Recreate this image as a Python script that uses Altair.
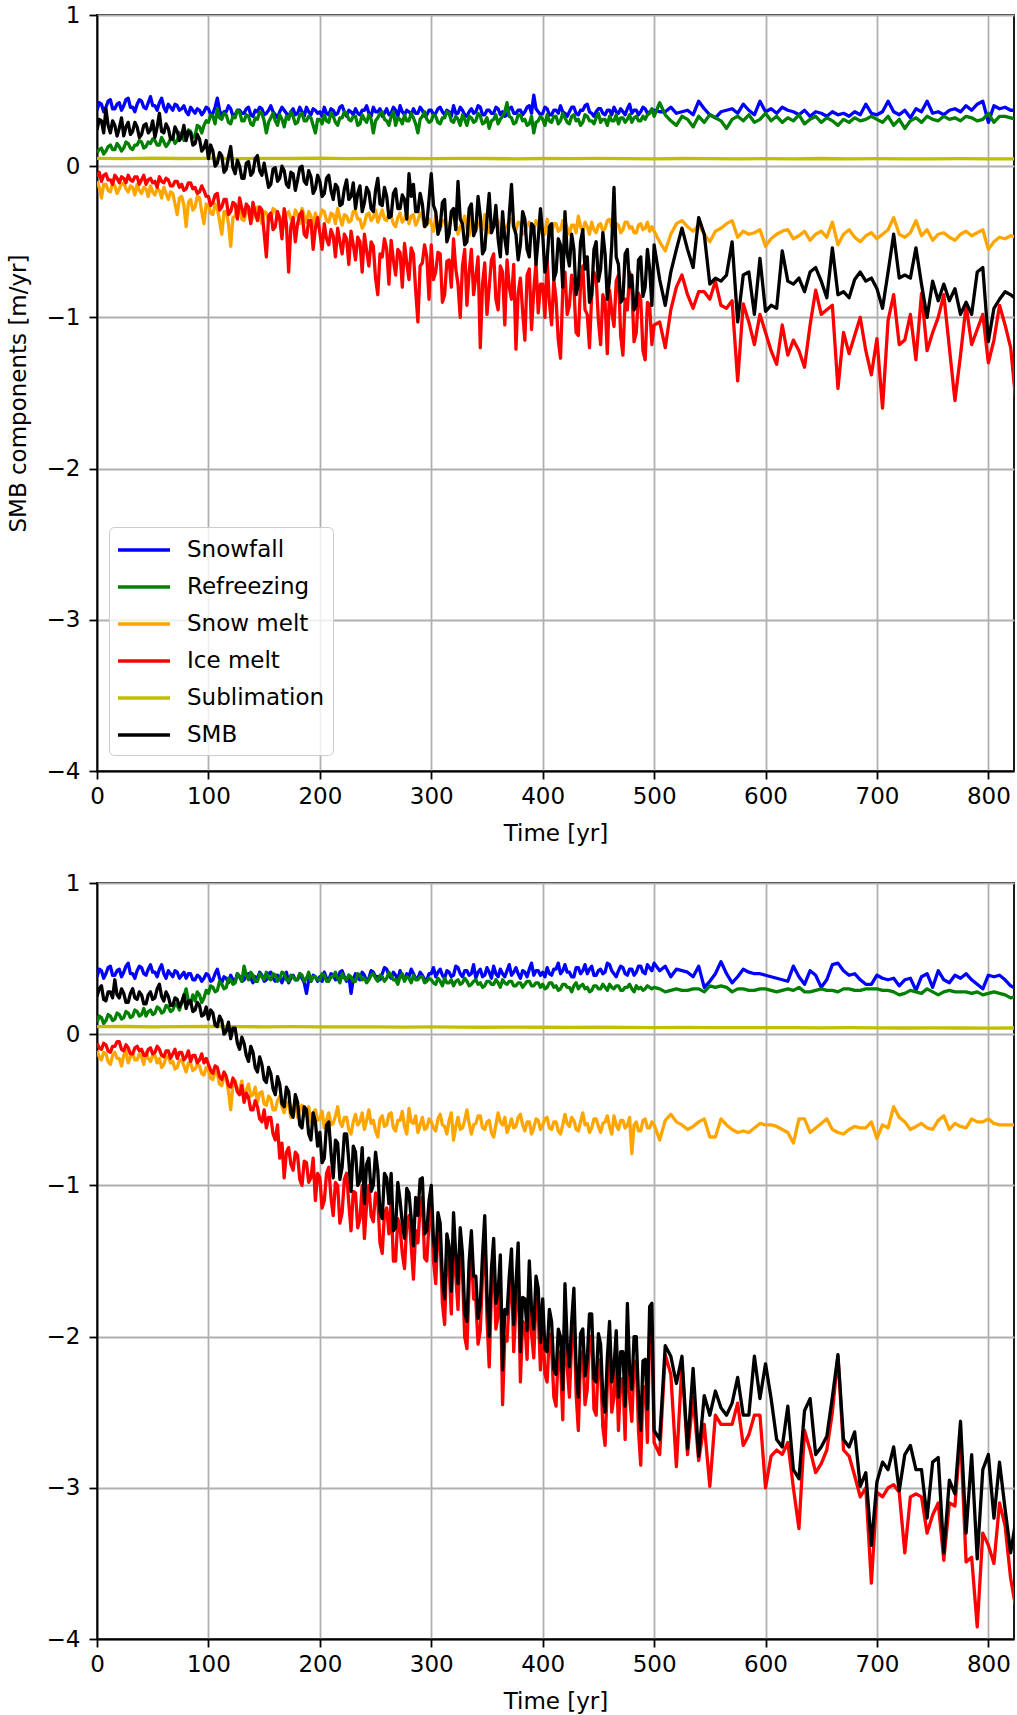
import altair as alt
import pandas as pd

# ---------------------------------------------------------------------------
# Surface mass balance components of two glacier runs (values in cm/yr).
# Output is kept every 2 years up to year 498, then every 5 years.
# ---------------------------------------------------------------------------
YEARS = list(range(0, 500, 2)) + list(range(500, 826, 5))
SUBL_YEARS = list(range(0, 826, 25))

SERIES = ["Snowfall", "Refreezing", "Snow melt", "Ice melt", "Sublimation", "SMB"]
COLORS = ["#0000ff", "#008000", "#ffa500", "#ff0000", "#bfbf00", "#000000"]

X_TICKS = [0, 100, 200, 300, 400, 500, 600, 700, 800]
Y_TICKS = [-4, -3, -2, -1, 0, 1]

# ----------------------------- run 1 (top) ---------------------------------
TOP_SNOWFALL = [
    37, 42, 41, 36, 39, 43, 44, 38, 38, 41, 42, 37, 40, 44, 45, 39, 39, 36, 41, 44, 43, 39, 38, 42, 46,
    40, 40, 37, 42, 45, 39, 36, 41, 39, 37, 41, 40, 37, 38, 40, 36, 34, 39, 37, 35, 38, 37, 34, 36, 39,
    38, 34, 35, 39, 45, 37, 33, 36, 36, 40, 38, 33, 34, 37, 37, 35, 35, 38, 39, 34, 33, 37, 36, 39, 38,
    34, 35, 37, 40, 36, 34, 32, 36, 39, 37, 35, 33, 36, 38, 34, 35, 39, 36, 33, 39, 36, 34, 38, 37, 35,
    36, 33, 39, 35, 34, 38, 37, 34, 35, 39, 40, 36, 33, 37, 36, 34, 38, 35, 34, 37, 37, 40, 35, 33, 39,
    36, 36, 38, 33, 35, 38, 34, 35, 39, 37, 33, 40, 36, 34, 37, 36, 34, 38, 35, 35, 39, 37, 33, 34, 37,
    37, 34, 35, 38, 39, 36, 34, 37, 36, 33, 40, 35, 35, 39, 37, 34, 33, 36, 38, 35, 36, 40, 39, 34, 34,
    37, 37, 35, 35, 39, 38, 34, 36, 33, 34, 38, 39, 35, 35, 37, 37, 34, 36, 39, 40, 35, 47, 38, 36, 34,
    35, 39, 38, 34, 34, 37, 37, 35, 40, 36, 35, 33, 36, 39, 39, 35, 34, 37, 37, 40, 41, 36, 35, 33, 36,
    38, 38, 35, 34, 37, 37, 34, 39, 36, 35, 38, 36, 34, 38, 41, 35, 37, 37, 34, 36, 39, 38, 35, 36, 37,
    37, 36, 36, 39, 35, 36, 37, 34, 43, 38, 34, 32, 36, 37, 38, 35, 41, 37, 34, 43,
    36, 38, 35, 39, 37, 36, 34, 37, 33, 36, 35, 33, 36, 34, 35, 33, 36, 34, 41, 35,
    34, 36, 43, 36, 34, 37, 32, 38, 36, 43, 35, 36, 34, 37, 38, 36, 40, 37, 41, 43,
    29, 40, 38, 39, 37, 37,
]
TOP_REFREEZING = [
    9, 11, 12, 8, 10, 13, 14, 11, 11, 15, 13, 10, 12, 16, 15, 12, 11, 14, 14, 17, 16, 12, 13, 16, 15,
    18, 17, 14, 14, 19, 16, 13, 15, 18, 19, 15, 17, 22, 21, 17, 18, 24, 23, 19, 20, 27, 26, 22, 27, 30,
    29, 34, 33, 28, 38, 32, 31, 35, 34, 29, 28, 33, 32, 37, 36, 30, 30, 34, 33, 28, 27, 32, 31, 36, 35,
    30, 22, 29, 32, 35, 30, 27, 34, 31, 26, 33, 31, 36, 33, 28, 29, 34, 35, 30, 30, 33, 32, 27, 22, 31,
    31, 28, 34, 30, 29, 35, 33, 29, 27, 32, 32, 36, 35, 31, 30, 33, 33, 27, 28, 34, 31, 29, 34, 31, 22,
    30, 32, 35, 36, 31, 30, 27, 33, 36, 27, 32, 31, 28, 34, 30, 30, 35, 32, 28, 22, 31, 33, 36, 31, 29,
    30, 34, 33, 29, 28, 32, 32, 36, 35, 30, 29, 33, 31, 27, 34, 31, 27, 33, 32, 29, 30, 35, 33, 28, 29,
    32, 25, 30, 31, 34, 28, 31, 33, 36, 42, 33, 32, 28, 29, 34, 34, 30, 31, 27, 28, 33, 22, 29, 30, 33,
    31, 27, 34, 30, 29, 33, 33, 28, 30, 35, 32, 29, 28, 33, 34, 30, 31, 27, 29, 34, 33, 30, 30, 28, 32,
    35, 29, 31, 31, 27, 33, 30, 30, 34, 28, 32, 32, 29, 31, 34, 29, 32, 33, 30, 30, 33, 31, 34, 35, 38,
    33, 42, 34, 30, 27, 33, 31, 26, 33, 29, 34, 32, 30, 25, 31, 33, 30, 34, 29, 31,
    35, 30, 33, 29, 32, 30, 34, 28, 31, 33, 29, 32, 30, 27, 31, 29, 32, 30, 31, 33,
    31, 29, 33, 27, 31, 25, 30, 32, 29, 33, 31, 30, 33, 31, 32, 30, 33, 32, 30, 31,
    35, 29, 33, 33, 32, 31,
]
TOP_SNOWMELT = [
    -10, -14, -21, -12, -12, -16, -17, -11, -13, -18, -15, -12, -11, -15, -17, -13, -14, -19, -12, -16, -18, -14, -15, -20, -13,
    -17, -19, -15, -16, -21, -14, -18, -22, -17, -18, -25, -32, -21, -20, -26, -40, -24, -22, -29, -27, -20, -21, -30, -38, -25,
    -26, -31, -32, -25, -28, -36, -45, -30, -30, -38, -53, -34, -33, -27, -28, -35, -36, -29, -30, -37, -34, -28, -27, -33, -38,
    -30, -31, -36, -35, -28, -29, -34, -33, -39, -40, -31, -30, -35, -36, -29, -32, -38, -28, -33, -37, -30, -33, -40, -31, -36,
    -34, -29, -30, -36, -37, -31, -32, -38, -28, -34, -39, -32, -33, -37, -36, -30, -30, -35, -35, -41, -38, -32, -31, -36, -34,
    -29, -37, -33, -29, -35, -36, -31, -33, -38, -40, -34, -31, -37, -35, -30, -38, -33, -32, -39, -36, -31, -34, -40, -39, -35,
    -38, -43, -33, -39, -42, -36, -36, -41, -40, -34, -30, -38, -45, -40, -37, -33, -41, -46, -35, -40, -43, -37, -38, -42, -32,
    -39, -44, -38, -39, -34, -36, -43, -47, -41, -40, -36, -35, -41, -42, -37, -38, -45, -44, -39, -37, -42, -41, -36, -39, -44,
    -40, -45, -35, -41, -44, -38, -38, -43, -42, -36, -36, -41, -45, -39, -39, -44, -33, -40, -43, -37, -40, -45, -37, -42, -44,
    -39, -38, -43, -41, -36, -35, -40, -43, -38, -39, -44, -42, -37, -37, -41, -40, -44, -44, -39, -38, -42, -41, -37, -43, -40,
    -43, -50, -56, -45, -38, -36, -40, -43, -39, -45, -50, -43, -41, -38, -36, -47, -43, -45, -44, -42,
    -53, -48, -45, -43, -42, -48, -46, -43, -49, -45, -43, -47, -37, -52, -45, -42, -47, -50, -46, -44,
    -48, -45, -42, -34, -45, -47, -44, -36, -46, -42, -49, -45, -44, -47, -49, -45, -43, -46, -44, -42,
    -55, -50, -47, -48, -46, -47,
]
TOP_ICEMELT = [
    -7, -4, -10, -6, -5, -9, -9, -12, -6, -8, -11, -7, -8, -11, -6, -9, -10, -7, -7, -12, -9, -6, -12, -9, -8,
    -11, -10, -14, -7, -10, -11, -8, -9, -13, -13, -10, -10, -14, -12, -16, -15, -11, -11, -15, -14, -18, -17, -13, -16, -20,
    -20, -26, -24, -19, -18, -29, -27, -22, -22, -32, -30, -24, -25, -35, -21, -28, -33, -25, -27, -38, -24, -31, -36, -27, -29,
    -44, -60, -33, -31, -42, -40, -30, -35, -48, -28, -38, -70, -40, -34, -50, -38, -32, -30, -45, -47, -36, -36, -55, -41, -34,
    -44, -55, -38, -48, -52, -42, -46, -60, -41, -50, -58, -45, -48, -65, -43, -52, -62, -47, -50, -70, -45, -56, -66, -50, -53,
    -74, -85, -58, -60, -48, -55, -78, -49, -62, -72, -55, -57, -80, -51, -64, -75, -54, -58, -82, -103, -66, -64, -52, -60, -88,
    -52, -75, -70, -57, -58, -90, -85, -63, -62, -80, -48, -68, -78, -100, -66, -55, -92, -70, -55, -85, -73, -60, -120, -78, -64,
    -98, -80, -62, -58, -88, -95, -66, -70, -105, -62, -80, -88, -65, -121, -84, -74, -96, -115, -72, -68, -108, -82, -64, -97, -78,
    -78, -100, -62, -90, -105, -75, -88, -115, -127, -82, -70, -98, -92, -72, -80, -110, -112, -78, -66, -95, -98, -120, -85, -70, -74,
    -102, -118, -85, -90, -124, -82, -96, -106, -76, -72, -112, -125, -88, -95, -70, -80, -116, -110, -84, -88, -122, -128, -90, -92, -118,
    -105, -103, -120, -95, -80, -72, -85, -94, -83, -83, -88, -76, -92, -94, -89, -142, -91, -103, -118, -98,
    -110, -122, -131, -105, -125, -115, -122, -133, -105, -82, -98, -95, -92, -147, -110, -124, -112, -100, -122, -138,
    -114, -160, -102, -85, -118, -115, -98, -128, -84, -122, -110, -100, -85, -120, -155, -125, -92, -118, -108, -98,
    -130, -115, -92, -105, -120, -158,
]
TOP_SMB = [
    24, 31, 30, 22, 38, 27, 22, 30, 27, 20, 25, 32, 20, 26, 29, 21, 23, 29, 26, 19, 21, 27, 28, 22, 24,
    30, 19, 26, 35, 23, 22, 28, 25, 18, 18, 26, 23, 17, 20, 27, 17, 23, 22, 14, 15, 21, 18, 10, 12, 17,
    5, 14, 10, 0, 2, 9, 7, -4, -2, 6, 13, -1, -5, 4, 0, -8, -8, 2, 3, -6, -4, 5, 7, -3, -6,
    2, -6, -14, -12, -2, -1, -10, -8, 0, -3, -12, -14, -4, -5, -16, -9, -1, 0, -10, -12, -3, -7, -18, -15, -6,
    -10, -20, -18, -8, -6, -16, -22, -12, -14, -26, -25, -15, -9, -22, -20, -11, -28, -18, -13, -30, -24, -14, -17, -28, -30,
    -16, -8, -25, -26, -14, -20, -34, -33, -18, -15, -28, -28, -19, -22, -35, -5, -20, -12, -30, -30, -18, -25, -40, -38, -22,
    -5, -26, -30, -45, -40, -24, -22, -50, -45, -30, -28, -42, -10, -35, -38, -52, -50, -28, -25, -46, -42, -20, -33, -58, -55,
    -35, -18, -44, -40, -26, -48, -60, -30, -48, -58, -32, -12, -40, -45, -62, -52, -30, -35, -55, -60, -38, -40, -65, -48, -28,
    -45, -70, -62, -40, -38, -75, -70, -48, -52, -80, -30, -58, -66, -45, -55, -85, -78, -50, -42, -68, -60, -90, -85, -55, -50,
    -76, -68, -44, -58, -88, -75, -52, -14, -60, -65, -90, -88, -58, -55, -80, -72, -95, -92, -62, -60, -86, -80, -55, -68, -92,
    -52, -75, -92, -70, -55, -41, -55, -67, -34, -45, -78, -74, -76, -72, -50, -103, -72, -70, -98, -61,
    -96, -92, -94, -56, -76, -78, -74, -83, -70, -67, -76, -87, -54, -85, -83, -87, -75, -70, -76, -74,
    -81, -94, -70, -45, -74, -72, -74, -54, -78, -100, -76, -89, -78, -89, -81, -98, -90, -98, -70, -67,
    -116, -94, -88, -83, -85, -88,
]
TOP_SUBLIMATION = [
    5.2, 5.0, 5.3, 5.1, 5.2, 5.0, 5.2, 5.1, 5.3, 5.0, 5.2, 5.1, 5.0, 5.2, 5.1, 4.9, 5.1,
    5.0, 5.2, 5.0, 4.9, 5.1, 5.0, 4.8, 5.0, 4.9, 5.1, 4.8, 5.0, 4.9, 4.8, 5.0, 4.9, 4.8,
]

# ---------------------------- run 2 (bottom) -------------------------------
BOT_SNOWFALL = [
    38, 43, 42, 37, 40, 44, 45, 39, 39, 42, 43, 38, 41, 45, 47, 40, 40, 37, 42, 45, 44, 40, 39, 43, 46,
    41, 41, 38, 43, 46, 40, 37, 42, 40, 38, 42, 41, 37, 39, 41, 37, 40, 40, 36, 36, 39, 38, 35, 37, 40,
    39, 35, 36, 40, 43, 37, 34, 38, 37, 34, 39, 36, 35, 40, 38, 35, 36, 39, 40, 37, 34, 38, 37, 41, 39,
    35, 36, 40, 41, 37, 35, 39, 37, 34, 38, 41, 34, 37, 39, 36, 36, 40, 37, 34, 27, 36, 35, 39, 38, 35,
    38, 35, 41, 37, 36, 40, 39, 36, 37, 41, 42, 38, 35, 39, 27, 36, 40, 37, 36, 41, 39, 35, 37, 42, 41,
    38, 38, 36, 40, 44, 43, 39, 37, 41, 39, 36, 42, 38, 36, 40, 38, 43, 40, 37, 37, 41, 39, 36, 36, 40,
    40, 44, 38, 41, 43, 39, 37, 42, 41, 38, 39, 45, 44, 40, 38, 42, 42, 39, 40, 46, 37, 41, 43, 38, 39,
    44, 41, 37, 45, 40, 38, 43, 40, 38, 42, 46, 39, 41, 44, 40, 37, 42, 41, 38, 43, 47, 39, 42, 42, 39,
    41, 38, 44, 40, 39, 43, 43, 47, 40, 42, 46, 41, 41, 38, 38, 44, 44, 40, 42, 46, 40, 43, 45, 39, 39,
    42, 43, 40, 41, 47, 46, 42, 40, 38, 42, 45, 44, 40, 39, 43, 43, 39, 41, 45, 45, 41, 40, 46, 44, 42,
    47, 42, 45, 38, 43, 42, 41, 38, 45, 31, 35, 40, 48, 40, 34, 38, 43, 41, 40, 40,
    39, 38, 37, 36, 35, 45, 38, 33, 42, 39, 31, 36, 46, 47, 42, 39, 40, 36, 33, 33,
    39, 37, 36, 37, 32, 36, 37, 29, 38, 40, 31, 42, 36, 34, 39, 37, 40, 36, 33, 30,
    39, 38, 39, 36, 32, 30,
]
BOT_REFREEZING = [
    8, 12, 11, 7, 9, 13, 12, 9, 10, 14, 13, 10, 11, 15, 14, 11, 12, 16, 15, 12, 13, 17, 12, 15, 16,
    13, 14, 18, 17, 14, 15, 19, 18, 15, 16, 20, 19, 16, 21, 25, 30, 22, 20, 26, 22, 28, 26, 21, 24, 29,
    27, 32, 31, 28, 29, 35, 33, 30, 31, 37, 36, 33, 34, 40, 38, 35, 45, 39, 36, 41, 39, 35, 35, 40, 38,
    36, 41, 37, 36, 40, 39, 35, 37, 41, 40, 36, 35, 39, 38, 36, 36, 40, 39, 35, 37, 41, 35, 38, 38, 36,
    36, 40, 39, 35, 35, 38, 38, 41, 37, 34, 40, 37, 36, 39, 38, 35, 35, 40, 39, 36, 37, 34, 36, 39, 40,
    37, 35, 39, 38, 35, 37, 41, 39, 36, 36, 33, 38, 40, 35, 38, 37, 34, 39, 36, 36, 38, 38, 34, 35, 37,
    36, 34, 33, 37, 35, 32, 37, 34, 34, 36, 32, 35, 36, 33, 34, 37, 35, 32, 33, 35, 36, 33, 34, 31, 32,
    35, 35, 33, 33, 36, 34, 31, 36, 34, 33, 35, 35, 32, 32, 34, 34, 31, 33, 35, 35, 32, 32, 34, 34, 31,
    33, 30, 31, 34, 34, 31, 32, 29, 30, 33, 33, 31, 31, 28, 32, 34, 30, 32, 33, 30, 31, 28, 29, 32, 32,
    30, 30, 33, 31, 29, 33, 31, 30, 32, 32, 29, 29, 31, 31, 33, 30, 28, 32, 30, 31, 29, 30, 32, 31, 30,
    31, 30, 28, 29, 30, 29, 29, 30, 30, 28, 32, 31, 32, 31, 28, 30, 30, 29, 29, 30,
    30, 29, 28, 29, 30, 29, 31, 28, 28, 29, 30, 29, 29, 28, 30, 30, 29, 29, 30, 30,
    30, 29, 29, 28, 26, 27, 29, 28, 27, 30, 28, 26, 28, 29, 28, 28, 28, 27, 28, 26,
    27, 28, 27, 26, 24, 25,
]
BOT_SNOWMELT = [
    -11, -15, -17, -12, -13, -18, -20, -14, -12, -16, -16, -21, -14, -11, -19, -15, -13, -17, -17, -13, -15, -20, -12, -16, -18,
    -14, -14, -19, -16, -22, -20, -15, -15, -19, -18, -23, -22, -17, -17, -21, -25, -19, -19, -24, -23, -20, -21, -26, -27, -22,
    -24, -29, -30, -25, -26, -33, -34, -28, -29, -38, -50, -33, -31, -38, -36, -31, -42, -37, -33, -41, -40, -35, -45, -39, -38,
    -46, -47, -41, -43, -50, -50, -44, -41, -48, -52, -45, -46, -55, -49, -44, -55, -50, -47, -54, -53, -48, -58, -52, -50, -57,
    -56, -51, -62, -57, -52, -60, -59, -54, -48, -58, -61, -55, -55, -63, -66, -58, -53, -60, -58, -52, -63, -57, -50, -59, -57,
    -64, -68, -56, -54, -61, -60, -53, -52, -62, -64, -57, -57, -51, -61, -66, -49, -58, -59, -54, -65, -60, -55, -63, -62, -56,
    -58, -62, -64, -56, -53, -60, -61, -66, -57, -52, -70, -61, -55, -63, -62, -57, -50, -59, -66, -60, -59, -54, -54, -62, -63,
    -58, -57, -65, -68, -60, -52, -58, -60, -55, -65, -61, -56, -62, -61, -55, -53, -60, -64, -58, -58, -66, -62, -56, -57, -63,
    -60, -56, -55, -62, -63, -58, -58, -64, -66, -60, -53, -59, -61, -55, -57, -63, -64, -58, -52, -60, -59, -65, -62, -56, -56,
    -61, -65, -59, -58, -54, -61, -66, -54, -60, -63, -57, -57, -62, -60, -55, -79, -60, -58, -64, -64, -57, -56, -62, -62, -58,
    -60, -70, -57, -53, -58, -60, -63, -61, -58, -56, -68, -68, -56, -60, -63, -65, -64, -65, -62, -59,
    -60, -60, -61, -63, -65, -72, -56, -56, -65, -62, -59, -56, -63, -65, -66, -63, -61, -62, -62, -58,
    -69, -60, -62, -48, -55, -58, -63, -61, -59, -62, -63, -57, -54, -63, -59, -61, -62, -56, -58, -58,
    -56, -59, -60, -60, -60, -60,
]
BOT_ICEMELT = [
    -6, -9, -10, -6, -7, -11, -12, -8, -8, -5, -5, -10, -11, -7, -9, -13, -13, -9, -8, -11, -10, -14, -14, -10, -9,
    -13, -12, -8, -10, -14, -15, -11, -11, -16, -13, -10, -16, -12, -12, -17, -15, -11, -18, -14, -14, -19, -17, -13, -19, -16,
    -20, -24, -26, -21, -22, -28, -30, -25, -28, -34, -35, -29, -32, -38, -40, -34, -45, -39, -42, -50, -50, -44, -48, -56, -58,
    -50, -62, -55, -55, -66, -70, -60, -82, -72, -95, -78, -75, -86, -90, -78, -80, -96, -100, -84, -85, -98, -95, -82, -110, -92,
    -95, -115, -110, -92, -88, -108, -120, -98, -100, -125, -118, -96, -92, -112, -130, -104, -105, -128, -122, -100, -135, -112, -100, -120, -124,
    -105, -110, -138, -145, -118, -115, -132, -110, -150, -150, -122, -128, -145, -155, -125, -120, -140, -162, -130, -138, -115, -108, -148, -150, -125,
    -110, -150, -165, -130, -137, -178, -192, -145, -154, -185, -128, -160, -182, -140, -158, -200, -208, -165, -142, -175, -176, -205, -196, -160, -130,
    -188, -220, -170, -148, -195, -186, -160, -245, -200, -203, -175, -155, -210, -180, -150, -230, -190, -192, -215, -163, -198, -214, -175, -184, -222,
    -190, -225, -230, -198, -207, -240, -246, -210, -216, -255, -178, -220, -240, -205, -182, -238, -262, -215, -210, -245, -235, -200, -200, -248, -252,
    -215, -222, -260, -272, -232, -205, -250, -240, -212, -262, -228, -228, -268, -192, -240, -256, -218, -216, -262, -285, -235, -233, -270, -195, -192,
    -270, -278, -212, -225, -286, -218, -278, -240, -282, -258, -299, -252, -258, -258, -258, -244, -272, -265, -252, -252,
    -300, -279, -275, -278, -270, -300, -327, -262, -275, -290, -284, -275, -250, -213, -275, -279, -292, -306, -300, -363,
    -303, -306, -300, -298, -303, -343, -306, -304, -306, -330, -318, -310, -348, -310, -312, -265, -349, -346, -392, -330,
    -338, -350, -310, -325, -360, -381,
]
BOT_SMB = [
    25, 30, 32, 23, 22, 28, 28, 24, 36, 26, 24, 30, 27, 21, 21, 27, 30, 24, 23, 28, 26, 20, 20, 26, 28,
    23, 24, 30, 33, 25, 22, 28, 25, 19, 19, 24, 23, 18, 21, 26, 17, 22, 22, 15, 16, 21, 19, 12, 13, 18,
    10, 16, 14, 6, 5, 12, 9, 0, 2, 8, -3, 4, 4, -6, -10, -2, -6, -14, -18, -8, -12, -22, -25, -15, -20,
    -30, -32, -22, -26, -36, -40, -28, -33, -46, -48, -35, -38, -52, -55, -40, -45, -60, -62, -48, -50, -66, -70, -52, -58, -74,
    -65, -85, -82, -60, -58, -78, -95, -70, -72, -96, -88, -66, -66, -84, -104, -74, -78, -100, -97, -75, -112, -86, -82, -104, -100,
    -78, -90, -118, -122, -92, -95, -112, -92, -130, -128, -98, -110, -125, -135, -102, -105, -122, -140, -108, -120, -96, -95, -132, -130, -110,
    -100, -136, -150, -118, -125, -162, -175, -132, -140, -170, -118, -146, -165, -128, -145, -184, -190, -150, -130, -160, -160, -188, -178, -146, -120,
    -172, -200, -155, -135, -178, -170, -146, -222, -182, -185, -160, -142, -192, -165, -138, -210, -174, -175, -196, -150, -182, -195, -160, -168, -204,
    -175, -208, -210, -182, -190, -222, -225, -195, -200, -235, -165, -204, -220, -190, -168, -220, -240, -198, -195, -226, -215, -185, -185, -228, -230,
    -198, -205, -240, -250, -214, -190, -230, -220, -196, -240, -210, -210, -246, -178, -222, -235, -200, -200, -240, -262, -216, -215, -248, -180, -178,
    -262, -268, -206, -213, -231, -213, -274, -221, -279, -239, -252, -236, -247, -252, -244, -227, -252, -252, -213, -241,
    -218, -241, -268, -273, -246, -288, -294, -249, -241, -278, -273, -266, -240, -212, -268, -273, -263, -299, -290, -338,
    -296, -283, -288, -273, -302, -278, -272, -288, -288, -320, -283, -280, -343, -295, -304, -256, -330, -278, -347, -288,
    -278, -320, -283, -314, -343, -320,
]
BOT_SUBLIMATION = [
    5.0, 5.1, 4.9, 5.0, 5.1, 5.0, 4.9, 5.0, 4.8, 4.9, 4.8, 4.7, 4.8, 4.7, 4.6, 4.7, 4.6,
    4.5, 4.6, 4.5, 4.4, 4.5, 4.4, 4.3, 4.4, 4.3, 4.2, 4.3, 4.2, 4.1, 4.2, 4.1, 4.0, 4.1,
]

FONT = "DejaVu Sans"
LINE_W = 3.3


def frame(snow, refreeze, snowmelt, icemelt, subl, smb):
    """Long table (year, value in m/yr, series) for one run."""
    rows = []
    for name, vals in [("Snowfall", snow), ("Refreezing", refreeze),
                       ("Snow melt", snowmelt), ("Ice melt", icemelt), ("SMB", smb)]:
        assert len(vals) == len(YEARS), (name, len(vals), len(YEARS))
        rows += [{"year": t, "value": v / 100.0, "series": name} for t, v in zip(YEARS, vals)]
    assert len(subl) == len(SUBL_YEARS), ("Sublimation", len(subl))
    rows += [{"year": t, "value": v / 100.0, "series": "Sublimation"} for t, v in zip(SUBL_YEARS, subl)]
    return pd.DataFrame(rows)


def panel(df, y_title, legend):
    base = alt.Chart(df).mark_line(strokeWidth=LINE_W, strokeJoin="round", clip=True).encode(
        x=alt.X("year:Q",
                scale=alt.Scale(domain=[0, 823], nice=False, zero=False),
                axis=alt.Axis(values=X_TICKS, title="Time [yr]", labelFlush=False)),
        y=alt.Y("value:Q",
                scale=alt.Scale(domain=[-4, 1], nice=False, zero=False),
                axis=alt.Axis(values=Y_TICKS, title=y_title, format="d", labelFlush=False)),
        color=alt.Color("series:N", scale=alt.Scale(domain=SERIES, range=COLORS), legend=legend),
    )
    # one layer per component so the drawing order follows the legend order
    layers = [base.transform_filter(alt.datum.series == s) for s in SERIES]
    return alt.layer(*layers).properties(width=917, height=756)


# legend handles: a horizontal dash twice as long as the nominal symbol size
legend = alt.Legend(
    title=None, orient="none", legendX=12, legendY=512,
    symbolType="M-2,0H2", symbolSize=676, symbolStrokeWidth=LINE_W, symbolOffset=12,
    labelFont=FONT, labelFontSize=23, labelColor="black", labelOffset=28,
    rowPadding=10, padding=8,
    fillColor="rgba(255,255,255,0.8)", strokeColor="#cccccc", cornerRadius=5,
)

top = panel(frame(TOP_SNOWFALL, TOP_REFREEZING, TOP_SNOWMELT, TOP_ICEMELT,
                  TOP_SUBLIMATION, TOP_SMB), "SMB components [m/yr]", legend)
bottom = panel(frame(BOT_SNOWFALL, BOT_REFREEZING, BOT_SNOWMELT, BOT_ICEMELT,
                     BOT_SUBLIMATION, BOT_SMB), " ", None)

chart = (
    alt.vconcat(top, bottom, spacing=25)
    .resolve_scale(color="independent")
    .resolve_legend(color="independent")
    .properties(padding={"left": 6, "top": 3, "right": 2, "bottom": 2}, background="white")
    .configure_axis(
        labelFont=FONT, labelFontSize=23, labelColor="black", labelPadding=6,
        titleFont=FONT, titleFontSize=23, titleFontWeight="normal", titleColor="black",
        domainColor="black", domainWidth=1.8, tickColor="black", tickWidth=1.8, tickSize=8,
        gridColor="#b0b0b0", gridWidth=1.8,
    )
    .configure_axisX(titlePadding=14)
    .configure_axisY(titlePadding=16, labelPadding=9)
    .configure_view(stroke="black", strokeWidth=1.8)
)

chart.save("out.html", embed_options={"renderer": "svg", "actions": False})
